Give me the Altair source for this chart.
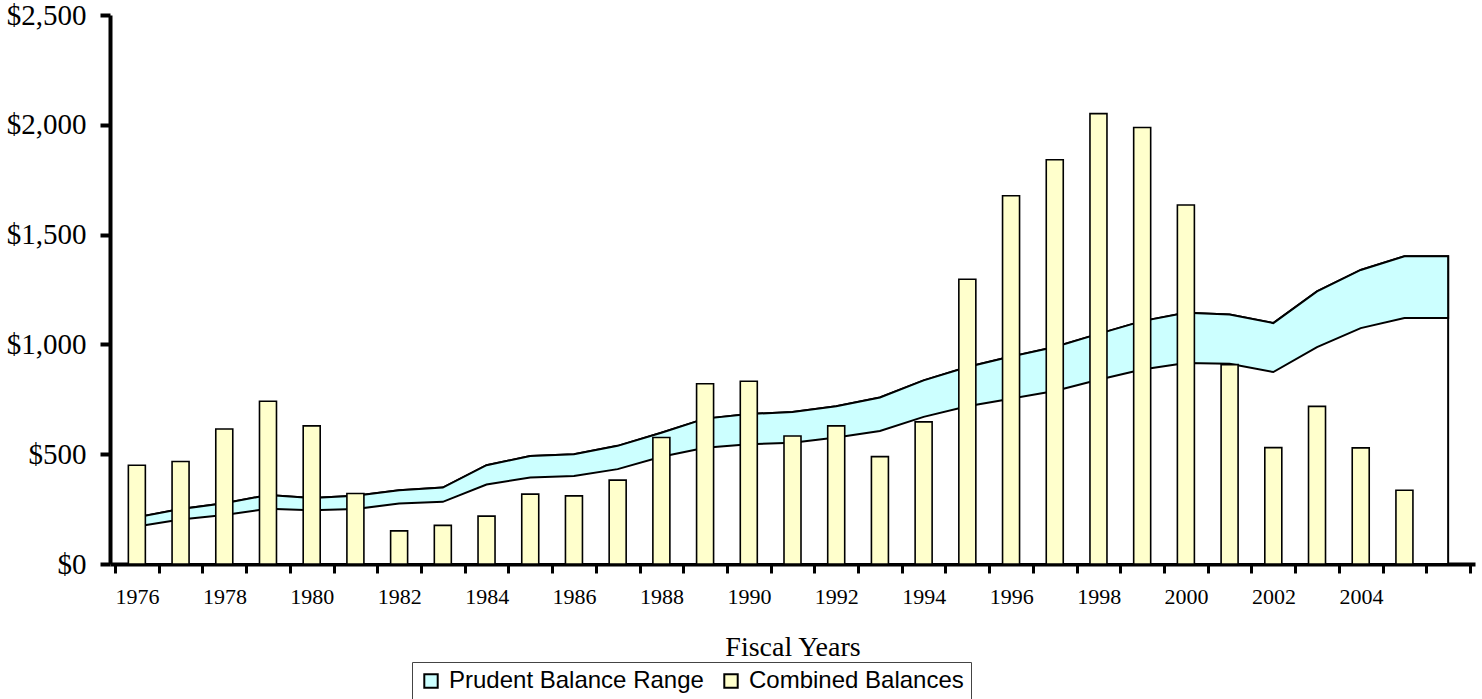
import altair as alt
import pandas as pd

# Fiscal years on the category axis (1976-2006)
years = list(range(1976, 2007))

# Prudent balance range, lower and upper bounds ($ millions)
range_low = [171, 203, 223, 252, 245, 250, 276, 283, 362, 394, 401, 432, 488, 529, 545,
             552, 576, 606, 670, 718, 753, 788, 839, 886, 915, 912, 874, 988, 1074, 1120, 1120]
range_high = [213, 250, 277, 314, 301, 311, 336, 348, 450, 492, 500, 538, 598, 662, 683,
              692, 718, 758, 836, 897, 945, 988, 1048, 1106, 1144, 1136, 1097, 1241, 1339, 1401, 1401]

# Combined balances (no value yet for the last year)
bar_years = list(range(1976, 2006))
combined = [450, 467, 615, 741, 629, 321, 151, 176, 218, 318, 310, 382, 576, 821, 832,
            583, 629, 489, 647, 1297, 1677, 1841, 2051, 1988, 1635, 908, 530, 718, 529, 336]

series_names = ["Prudent Balance Range", "Combined Balances"]
series_colors = ["#CCFFFF", "#FFFFCC"]

band = pd.DataFrame({"year": years, "low": range_low, "high": range_high, "zero": 0})
bars = pd.DataFrame({"year": bar_years, "value": combined, "series": "Combined Balances"})

W, H = 1365, 549
step_px = W / 31

x_scale = alt.Scale(domain=[1975.5, 2006.5], nice=False, zero=False)
y_scale = alt.Scale(domain=[0, 2500], nice=False)

x_axis = alt.Axis(
    values=[1975.5 + i for i in range(32)],
    labelExpr="(datum.value + 0.5) % 2 == 0 && datum.value < 2005 ? '' + (datum.value + 0.5) : ''",
    labelOffset=step_px / 2,
    labelFlush=False,
    labelOverlap=False,
    labelFont="Liberation Serif",
    labelFontSize=22,
    labelColor="black",
    labelPadding=13,
    tickSize=9,
    tickWidth=3,
    tickColor="black",
    domainColor="black",
    domainWidth=4,
    grid=False,
    title="Fiscal Years",
    titleFont="Liberation Serif",
    titleFontSize=28,
    titleFontWeight="normal",
    titleColor="black",
    titleX=W / 2,
    titleY=91,
    titleAlign="center",
    titleBaseline="alphabetic",
)

y_axis = alt.Axis(
    values=[0, 500, 1000, 1500, 2000, 2500],
    format="$,.0f",
    labelFont="Liberation Serif",
    labelFontSize=29,
    labelColor="black",
    labelPadding=14,
    tickSize=10,
    tickWidth=4,
    tickColor="black",
    domainColor="black",
    domainWidth=4,
    grid=False,
    title=None,
)

x_enc = alt.X("year:Q", scale=x_scale, axis=x_axis)

# Lower part of the stacked range (white, outlined)
lower_area = alt.Chart(band).mark_area(
    fill="white", stroke="black", strokeWidth=2, interpolate="linear"
).encode(
    x=x_enc,
    y=alt.Y("zero:Q", scale=y_scale, axis=y_axis),
    y2="high:Q",
)

# Prudent balance range band
range_area = alt.Chart(band).mark_area(
    fill="#CCFFFF", stroke="black", strokeWidth=2, interpolate="linear"
).encode(
    x=x_enc,
    y=alt.Y("low:Q", scale=y_scale, axis=y_axis),
    y2="high:Q",
)

# Combined balance columns
bar_layer = alt.Chart(bars).mark_bar(
    size=17, stroke="black", strokeWidth=1.6
).encode(
    x=x_enc,
    y=alt.Y("value:Q", scale=y_scale, axis=y_axis),
    color=alt.Color(
        "series:N",
        scale=alt.Scale(domain=series_names, range=series_colors),
        legend=alt.Legend(
            title=None,
            orient="none",
            legendX=412 - 110,
            legendY=662 - 15,
            direction="horizontal",
            symbolType="square",
            symbolSize=180,
            symbolStrokeColor="black",
            symbolStrokeWidth=2,
            symbolOpacity=1,
            labelFont="Liberation Sans",
            labelFontSize=24,
            labelColor="black",
            labelLimit=600,
            labelOffset=6,
            columnPadding=15,
            padding=7,
            strokeColor="#444444",
            fillColor="white",
        ),
    ),
)

chart = alt.layer(lower_area, range_area, bar_layer).properties(
    width=W,
    height=H,
    background="white",
    autosize=alt.AutoSizeParams(type="none"),
    padding={"left": 110, "top": 15, "right": 7, "bottom": 135},
).configure_view(strokeWidth=0)

chart.save("out.html", embed_options={"renderer": "svg", "actions": False})
